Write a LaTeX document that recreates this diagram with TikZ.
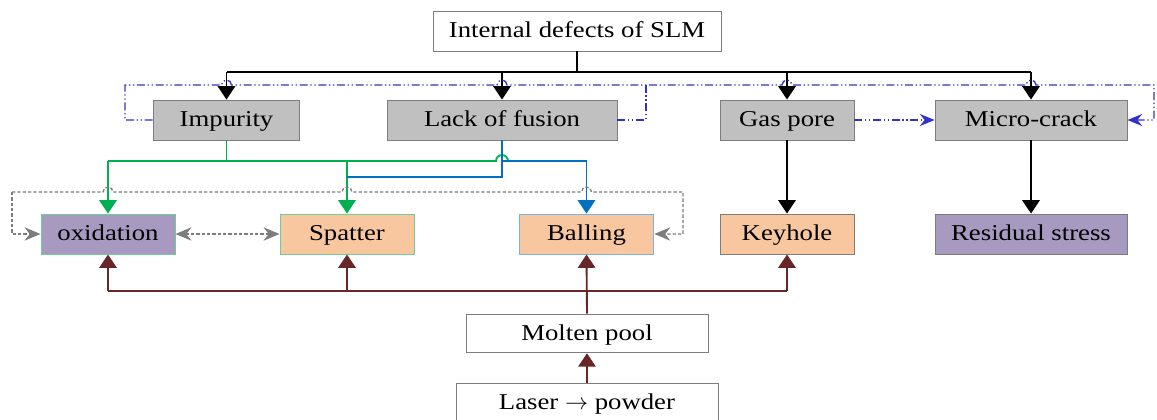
\documentclass[tikz,border=0pt]{standalone}
\usepackage{fontspec}
\setmainfont[FakeStretch=1.18]{Liberation Serif}
\usetikzlibrary{arrows.meta}

\definecolor{boxgray}{RGB}{192,192,192}
\definecolor{edgegray}{RGB}{125,125,125}
\definecolor{lilac}{RGB}{167,153,192}
\definecolor{peach}{RGB}{248,199,160}
\definecolor{lgreen}{RGB}{110,205,150}
\definecolor{lblue}{RGB}{120,180,225}
\definecolor{dgreen}{RGB}{0,176,80}
\definecolor{dblue}{RGB}{0,112,192}
\definecolor{navy}{RGB}{50,50,200}
\definecolor{maroon}{RGB}{105,38,38}

\tikzset{
  box/.style={draw=edgegray, line width=0.7pt, minimum height=30pt, inner sep=0pt,
    text height=13pt, text depth=3pt, font=\fontsize{17}{20}\selectfont},
  defect/.style={box, fill=boxgray},
  tip/.style={-{Triangle[width=13pt,length=10pt]}},
  blk/.style={line width=1.4pt, black},
  grn/.style={line width=1.4pt, dgreen},
  blu/.style={line width=1.4pt, dblue},
  brn/.style={line width=1.4pt, maroon},
  dd/.style={line width=1pt, navy, dash pattern=on 6pt off 2pt on 1pt off 2pt on 1pt off 2pt},
  gry/.style={line width=1pt, edgegray, dash pattern=on 2.5pt off 1.5pt},
  thin tip/.style={-{Stealth[width=10pt,length=12pt]}}
}

\begin{document}
\begin{tikzpicture}[x=0.75pt,y=0.75pt]
\useasboundingbox (0,0) rectangle (1157,-419);

\node[box, minimum width=216pt] (top) at (577,-31) {Internal defects of SLM};
\node[defect, minimum width=110pt] (imp) at (226.5,-120) {Impurity};
\node[defect, minimum width=172.5pt] (lof) at (502,-120) {Lack of fusion};
\node[defect, minimum width=100.5pt] (gas) at (787,-120) {Gas pore};
\node[defect, minimum width=144pt] (mc) at (1031,-120) {Micro-crack};

\node[box, fill=lilac, draw=lgreen, minimum width=100.5pt] (oxi) at (108,-234) {oxidation};
\node[box, fill=peach, draw=lgreen, minimum width=100.5pt] (spa) at (347,-234) {Spatter};
\node[box, fill=peach, draw=lblue, minimum width=101pt] (bal) at (586.5,-234) {Balling};
\node[box, fill=peach, minimum width=100.5pt] (key) at (787,-234) {Keyhole};
\node[box, fill=lilac, minimum width=144pt] (res) at (1031,-234) {Residual stress};

\node[box, minimum width=181.5pt, minimum height=29pt] (mol) at (587,-333.5) {Molten pool};
\node[box, minimum width=196.5pt] (las) at (587,-403) {Laser $\rightarrow$ powder};

\coordinate (busK) at (577,-72);
\coordinate (busG) at (0,-161);
\coordinate (busB) at (0,-177);
\coordinate (busM) at (0,-291);

\draw[blk] (top.south) -- (busK);
\draw[blk] (imp.north |- busK) -- (mc.north |- busK);
\foreach \n in {imp,lof,gas,mc}
  \draw[blk,tip] (\n.north |- busK) -- (\n.north);
\draw[blk,tip] (gas.south) -- (key.north);
\draw[blk,tip] (mc.south) -- (res.north);

\draw[dd,-{Stealth[width=9pt,length=11pt]}] (imp.west) -- (125,-120) -- (125,-85) -- (221.5,-85) arc[start angle=180,end angle=0,radius=5]
  -- (497,-85) arc[start angle=180,end angle=0,radius=5]
  -- (782,-85) arc[start angle=180,end angle=0,radius=5]
  -- (1026,-85) arc[start angle=180,end angle=0,radius=5]
  -- (1154,-85) |- (mc.east);
\draw[dd] (lof.east) -- (646,-120) -- (646,-85);
\draw[dd,-{Stealth[width=9pt,length=11pt]}] (gas.east) -- (mc.west);

\draw[grn] (imp.south) -- (imp.south |- busG);
\draw[grn] (oxi.north |- busG) -- (496,-161) arc[start angle=180,end angle=0,radius=6];
\draw[grn,tip] (oxi.north |- busG) -- (oxi.north);
\draw[grn,tip] (spa.north |- busG) -- (spa.north);

\draw[blu] (lof.south) -- (lof.south |- busB) -- (spa.north |- busB);
\draw[blu,tip] (lof.south |- busG) -| (bal.north);

\draw[gry,thin tip] (12,-192) -- (12,-234) -- (oxi.west);
\draw[gry,thin tip] (12,-192) -- (103,-192) arc[start angle=180,end angle=0,radius=5]
  -- (342,-192) arc[start angle=180,end angle=0,radius=5]
  -- (581.5,-192) arc[start angle=180,end angle=0,radius=5]
  -- (683,-192) |- (bal.east);
\draw[gry,{Stealth[width=10pt,length=12pt]}-{Stealth[width=10pt,length=12pt]}] (oxi.east) -- (spa.west);

\draw[brn,tip] (las.north) -- (mol.south);
\draw[brn,tip] (mol.north) -- (bal.south);
\draw[brn] (oxi.south |- busM) -- (key.south |- busM);
\foreach \n in {oxi,spa,key}
  \draw[brn,tip] (\n.south |- busM) -- (\n.south);
\end{tikzpicture}
\end{document}
